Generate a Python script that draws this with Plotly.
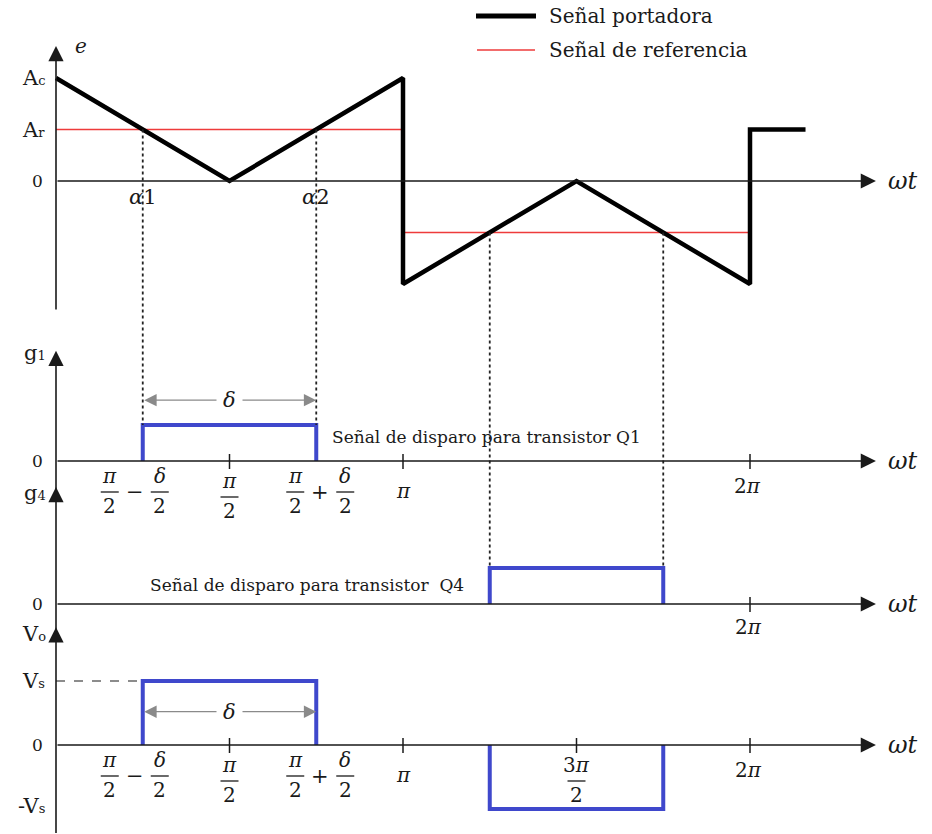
import plotly.graph_objects as go

# ---- signal values (time axis in multiples of pi) ----
carrier_t = [0, 0.5, 1, 1, 1.5, 2, 2, 2.16]
carrier_e = [1, 0, 1, -1, 0, -1, 0.5, 0.5]
reference_t = [0, 1, 1, 2]
reference_e = [0.5, 0.5, -0.5, -0.5]
g1_t = [0.25, 0.25, 0.75, 0.75]
g1_v = [0, 1, 1, 0]
g4_t = [1.25, 1.25, 1.75, 1.75]
g4_v = [0, 1, 1, 0]
vo_t = [0.25, 0.25, 0.75, 0.75, None, 1.25, 1.25, 1.75, 1.75]
vo_v = [0, 1, 1, 0, None, 0, -1, -1, 0]
A_c = 1.0
A_r = 0.5
cross_pos = [0.25, 0.75]   # carrier meets +Ar
cross_neg = [1.25, 1.75]   # carrier meets -Ar
g1_ticks = [0.5, 1, 2]
g4_ticks = [2]
vo_ticks = [0.5, 1, 1.5, 2]

# ---- geometry ----
W, H = 932, 834
X0, PX_PI = 56, 347
# each panel: (pixel row of its zero line, pixels per unit)
PANELS = {"y": (181, 103), "y2": (461, 36), "y3": (604, 36), "y4": (745, 64)}
X_TIP = 2.363
Y_AXIS = {"y": (-1.262, 1.311), "y2": (-1.0, 3.06), "y3": (-0.8, 3.25), "y4": (-1.4, 1.84)}

SERIF = "DejaVu Serif"
INK = "#1a1a1a"
BLUE = "#3f48cc"
GREY = "#8a8a8a"


def yrange(k):
    z, u = PANELS[k]
    return [-(H - z) / u, z / u]


def paper_y(k, v):
    z, u = PANELS[k]
    return 1 - (z - u * v) / H


fig = go.Figure()

# ---- traces ----
fig.add_trace(go.Scatter(x=reference_t, y=reference_e, mode="lines", yaxis="y",
                         line=dict(color="#ee3b3b", width=1.4), name="Señal de referencia",
                         showlegend=False, hoverinfo="skip"))
fig.add_trace(go.Scatter(x=carrier_t, y=carrier_e, mode="lines", yaxis="y",
                         line=dict(color="black", width=4.5), name="Señal portadora",
                         showlegend=False, hoverinfo="skip"))
fig.add_trace(go.Scatter(x=g1_t, y=g1_v, mode="lines", yaxis="y2",
                         line=dict(color=BLUE, width=4), showlegend=False, hoverinfo="skip"))
fig.add_trace(go.Scatter(x=g4_t, y=g4_v, mode="lines", yaxis="y3",
                         line=dict(color=BLUE, width=4), showlegend=False, hoverinfo="skip"))
fig.add_trace(go.Scatter(x=vo_t, y=vo_v, mode="lines", yaxis="y4",
                         line=dict(color=BLUE, width=4), showlegend=False, hoverinfo="skip"))


def arrow(x, y, ax, ay, yref, color=INK, width=1.6, size=1.9, both=False):
    fig.add_annotation(x=x, y=y, ax=ax, ay=ay, xref="x", yref=yref, axref="x", ayref=yref,
                       text="", showarrow=True, arrowhead=2, arrowsize=size, arrowwidth=width,
                       arrowcolor=color, arrowside="end+start" if both else "end",
                       startarrowhead=2, startarrowsize=size, standoff=0, startstandoff=0)


def label(text, x, y, yref, size=18, xanchor="center", yanchor="middle",
          xshift=0, yshift=0, italic=False, bg=None, pad=3):
    fig.add_annotation(x=x, y=y, xref="x", yref=yref, text=text, showarrow=False,
                       xanchor=xanchor, yanchor=yanchor, xshift=xshift, yshift=yshift,
                       font=dict(family=SERIF, size=size, color=INK,
                                 style="italic" if italic else "normal"),
                       bgcolor=bg, borderpad=pad)


def tick(x, yref):
    fig.add_shape(type="line", xref="x", yref=yref, x0=x, x1=x,
                  ysizemode="pixel", yanchor=0, y0=-8, y1=7,
                  line=dict(color=INK, width=1.5))


def frac(x, yref, num, den, xshift, top, size=20):
    label(num, x, 0, yref, size=size, xshift=xshift, yshift=-top)
    fig.add_shape(type="line", xref="x", yref=yref,
                  xsizemode="pixel", xanchor=x, x0=xshift - 9, x1=xshift + 9,
                  ysizemode="pixel", yanchor=0, y0=-(top + 16), y1=-(top + 16),
                  line=dict(color=INK, width=1.3))
    label(den, x, 0, yref, size=size, xshift=xshift, yshift=-(top + 30))


# ---- axes with arrowheads ----
for k, (lo, hi) in Y_AXIS.items():
    arrow(0, hi, 0, lo, k)
    arrow(X_TIP, 0, 0, 0, k)
    label("<i>ωt</i>", X_TIP, 0, k, size=24, xanchor="left", xshift=8)

# ---- top panel labels ----
small = "<span style='font-size:13px'>%s</span>"
label("<i>e</i>", 0, Y_AXIS["y"][1], "y", size=20, xanchor="left", xshift=15)
label("A" + small % "c", 0, A_c, "y", size=21, xanchor="right", xshift=-7)
label("A" + small % "r", 0, A_r, "y", size=21, xanchor="right", xshift=-7)
label("0", 0, 0, "y", size=17, xanchor="right", xshift=-9)
for i, t in enumerate(cross_pos):
    label("<i>α</i>%d" % (i + 1), t, 0, "y", size=21, yshift=-16)

# dotted projections from the crossings
for t in cross_pos:
    fig.add_shape(type="line", xref="x", yref="paper", x0=t, x1=t,
                  y0=paper_y("y", A_r), y1=paper_y("y2", 1),
                  line=dict(color="#222222", width=1.8, dash="dot"))
for t in cross_neg:
    fig.add_shape(type="line", xref="x", yref="paper", x0=t, x1=t,
                  y0=paper_y("y", -A_r), y1=paper_y("y3", 1),
                  line=dict(color="#222222", width=1.8, dash="dot"))

# ---- legend ----
fig.add_shape(type="line", xref="paper", yref="paper", x0=476 / W, x1=536 / W,
              y0=1 - 16 / H, y1=1 - 16 / H, line=dict(color="black", width=5))
fig.add_shape(type="line", xref="paper", yref="paper", x0=477 / W, x1=535 / W,
              y0=1 - 50 / H, y1=1 - 50 / H, line=dict(color="#ee3b3b", width=1.4))
for txt, yy in (("Señal portadora", 16), ("Señal de referencia", 50)):
    fig.add_annotation(x=547 / W, y=1 - yy / H, xref="paper", yref="paper", text=txt,
                       showarrow=False, xanchor="left", yanchor="middle",
                       font=dict(family=SERIF, size=20, color=INK))


def pulse_labels(yref):
    frac(0.25, yref, "<i>π</i>", "2", -33, 15)
    label("−", 0.25, 0, yref, size=21, xshift=-8, yshift=-31)
    frac(0.25, yref, "<i>δ</i>", "2", 17, 15)
    frac(0.5, yref, "<i>π</i>", "2", 0, 20)
    frac(0.75, yref, "<i>π</i>", "2", -21, 15)
    label("+", 0.75, 0, yref, size=21, xshift=4, yshift=-31)
    frac(0.75, yref, "<i>δ</i>", "2", 29, 15)
    label("<i>π</i>", 1, 0, yref, size=20, yshift=-30)


# ---- g1 panel ----
label("g" + small % "1", 0, Y_AXIS["y2"][1], "y2", size=21, xanchor="right", xshift=-6, yshift=-2)
label("0", 0, 0, "y2", size=17, xanchor="right", xshift=-9)
for t in g1_ticks:
    tick(t, "y2")
pulse_labels("y2")
label("2<i>π</i>", 2, 0, "y2", size=20, xshift=-3, yshift=-25)
arrow(0.75, 1.69, 0.25, 1.69, "y2", color=GREY, width=1.3, size=1.9, both=True)
label("<i>δ</i>", 0.5, 1.69, "y2", size=21, bg="white", pad=6)
label("Señal de disparo para transistor Q1", 0.75, 0, "y2", size=17,
      xanchor="left", xshift=12, yshift=24)

# ---- g4 panel ----
label("g" + small % "4", 0, Y_AXIS["y3"][1], "y3", size=21, xanchor="right", xshift=-6, yshift=-6)
label("0", 0, 0, "y3", size=17, xanchor="right", xshift=-9)
for t in g4_ticks:
    tick(t, "y3")
label("2<i>π</i>", 2, 0, "y3", size=20, xshift=-2, yshift=-23)
label("Señal de disparo para transistor\u00a0\u00a0Q4", 1.25, 0, "y3", size=17,
      xanchor="right", xshift=-22, yshift=19)

# ---- output voltage panel ----
label("V" + small % "o", 0, Y_AXIS["y4"][1], "y4", size=21, xanchor="right", xshift=-6, yshift=-7)
label("V" + small % "s", 0, 1, "y4", size=21, xanchor="right", xshift=-7)
label("-V" + small % "s", 0, -1, "y4", size=21, xanchor="right", xshift=-7, yshift=3)
label("0", 0, 0, "y4", size=17, xanchor="right", xshift=-9)
fig.add_shape(type="line", xref="x", yref="y4", x0=0, x1=cross_pos[0], y0=1, y1=1,
              line=dict(color=INK, width=1.2, dash="dash"))
for t in vo_ticks:
    tick(t, "y4")
pulse_labels("y4")
frac(1.5, "y4", "3<i>π</i>", "2", 0, 20)
label("2<i>π</i>", 2, 0, "y4", size=20, xshift=-2, yshift=-25)
arrow(0.75, 0.52, 0.25, 0.52, "y4", color=GREY, width=1.3, size=1.9, both=True)
label("<i>δ</i>", 0.5, 0.52, "y4", size=21, bg="white", pad=6)

# ---- layout ----
hidden = dict(visible=False, domain=[0, 1], fixedrange=True)
fig.update_layout(
    width=W, height=H, margin=dict(l=0, r=0, t=0, b=0, pad=0),
    paper_bgcolor="white", plot_bgcolor="white", showlegend=False,
    xaxis=dict(visible=False, range=[-X0 / PX_PI, (W - X0) / PX_PI], fixedrange=True),
    yaxis=dict(hidden, range=yrange("y")),
    yaxis2=dict(hidden, range=yrange("y2"), overlaying="y"),
    yaxis3=dict(hidden, range=yrange("y3"), overlaying="y"),
    yaxis4=dict(hidden, range=yrange("y4"), overlaying="y"),
)

fig.write_html("out.html")
